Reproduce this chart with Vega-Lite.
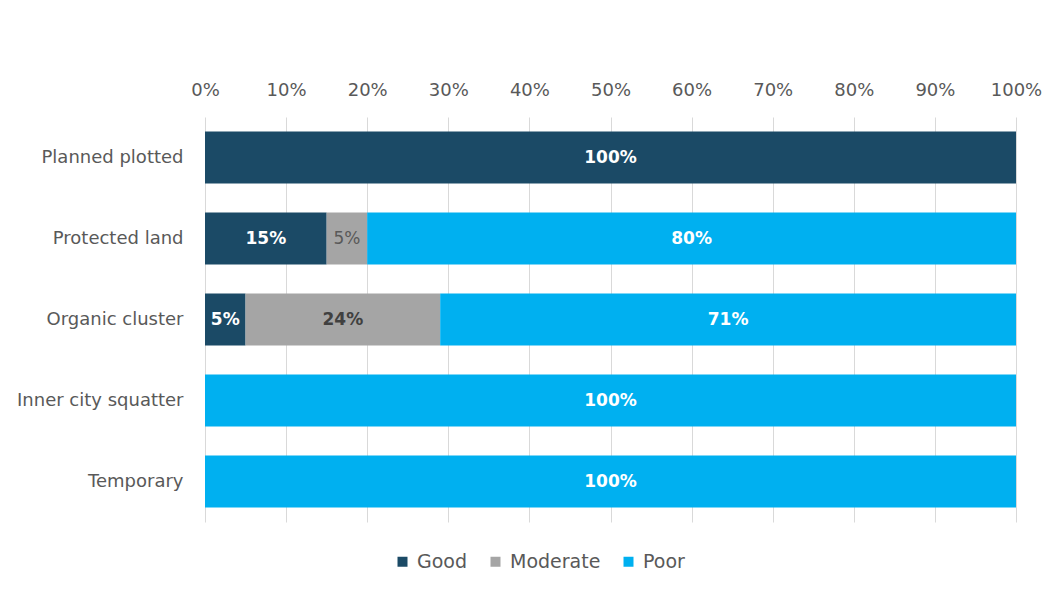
{
  "$schema": "https://vega.github.io/schema/vega-lite/v6.json",
  "autosize": {"type": "none"},
  "width": 811,
  "height": 405,
  "padding": {"left": 205, "top": 117, "right": 33, "bottom": 74},
  "background": "white",
  "config": {
    "view": {"stroke": null},
    "font": "DejaVu Sans",
    "axis": {"labelFont": "DejaVu Sans", "labelColor": "#595959", "labelFontSize": 17}
  },
  "data": {
    "values": [
      {"type": "Planned plotted", "condition": "Good", "value": 100},
      {"type": "Planned plotted", "condition": "Moderate", "value": 0},
      {"type": "Planned plotted", "condition": "Poor", "value": 0},
      {"type": "Protected land", "condition": "Good", "value": 15},
      {"type": "Protected land", "condition": "Moderate", "value": 5},
      {"type": "Protected land", "condition": "Poor", "value": 80},
      {"type": "Organic cluster", "condition": "Good", "value": 5},
      {"type": "Organic cluster", "condition": "Moderate", "value": 24},
      {"type": "Organic cluster", "condition": "Poor", "value": 71},
      {"type": "Inner city squatter", "condition": "Good", "value": 0},
      {"type": "Inner city squatter", "condition": "Moderate", "value": 0},
      {"type": "Inner city squatter", "condition": "Poor", "value": 100},
      {"type": "Temporary", "condition": "Good", "value": 0},
      {"type": "Temporary", "condition": "Moderate", "value": 0},
      {"type": "Temporary", "condition": "Poor", "value": 100}
    ]
  },
  "transform": [
    {"calculate": "indexof(['Good','Moderate','Poor'], datum.condition)", "as": "ord"},
    {"stack": "value", "groupby": ["type"], "sort": [{"field": "ord"}], "as": ["v0", "v1"]},
    {"calculate": "(datum.v0 + datum.v1) / 2", "as": "mid"},
    {"calculate": "datum.value + '%'", "as": "label"}
  ],
  "encoding": {
    "y": {
      "field": "type",
      "type": "nominal",
      "sort": ["Planned plotted", "Protected land", "Organic cluster", "Inner city squatter", "Temporary"],
      "scale": {"paddingInner": 0.36, "paddingOuter": 0.18},
      "axis": {"title": null, "domain": false, "ticks": false, "labelPadding": 22, "grid": false, "labelFontSize": 18}
    }
  },
  "layer": [
    {
      "mark": {"type": "bar"},
      "encoding": {
        "x": {
          "field": "v0",
          "type": "quantitative",
          "scale": {"domain": [0, 100], "nice": false},
          "axis": {
            "orient": "top",
            "title": null,
            "values": [0, 10, 20, 30, 40, 50, 60, 70, 80, 90, 100],
            "labelExpr": "datum.value + '%'",
            "labelFlush": false,
            "labelOverlap": false,
            "domain": false,
            "ticks": false,
            "grid": true,
            "gridColor": "#d9d9d9",
            "gridWidth": 1,
            "labelPadding": 18,
            "labelFontSize": 18
          }
        },
        "x2": {"field": "v1"},
        "color": {
          "field": "condition",
          "type": "nominal",
          "scale": {"domain": ["Good", "Moderate", "Poor"], "range": ["#1b4a66", "#a5a5a5", "#00b0f0"]},
          "legend": {
            "title": null,
            "orient": "none",
            "direction": "horizontal",
            "legendX": 188,
            "legendY": 435,
            "symbolType": "square",
            "symbolSize": 100,
            "symbolStrokeWidth": 0,
            "labelFont": "DejaVu Sans",
            "labelFontSize": 19,
            "labelColor": "#595959",
            "labelOffset": 5,
            "columnPadding": 18
          }
        }
      }
    },
    {
      "transform": [{"filter": "datum.value > 0 && !(datum.condition === 'Moderate' && datum.value < 10)"}],
      "mark": {"type": "text", "fontSize": 17, "font": "DejaVu Sans", "fontWeight": "bold"},
      "encoding": {
        "x": {"field": "mid", "type": "quantitative"},
        "text": {"field": "label", "type": "nominal"},
        "color": {
          "condition": {"test": "datum.condition === 'Moderate'", "value": "#404040"},
          "value": "white"
        }
      }
    },
    {
      "transform": [{"filter": "datum.condition === 'Moderate' && datum.value > 0 && datum.value < 10"}],
      "mark": {"type": "text", "fontSize": 17, "font": "DejaVu Sans", "fontWeight": "normal", "color": "#595959"},
      "encoding": {
        "x": {"field": "mid", "type": "quantitative"},
        "text": {"field": "label", "type": "nominal"}
      }
    }
  ]
}
